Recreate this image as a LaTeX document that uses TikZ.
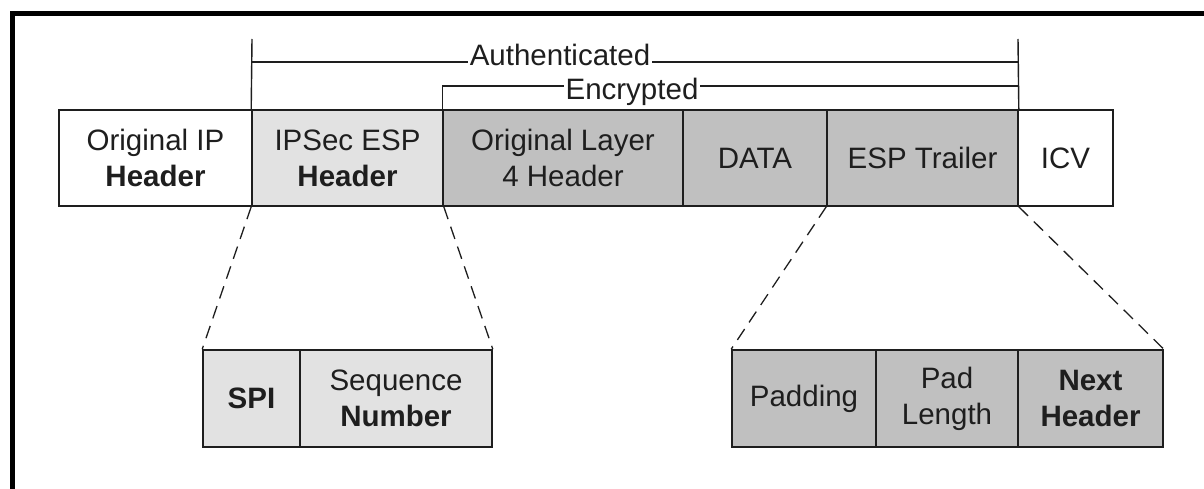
\documentclass[tikz,border=0pt]{standalone}
\usepackage{fontspec}
\setmainfont{Liberation Sans}
\definecolor{lgray}{HTML}{E2E2E2}
\definecolor{dgray}{HTML}{C0C0C0}
\definecolor{ink}{HTML}{1E1E1E}
\begin{document}
\begin{tikzpicture}[x=1pt,y=-1pt,
  cell/.style={draw=ink,line width=1.6pt,minimum height=96pt,inner sep=0pt,align=center,
    font=\fontsize{29.5}{36}\selectfont,text=ink},
  light/.style={cell,fill=lgray},
  dark/.style={cell,fill=dgray},
  plain/.style={cell,fill=white},
  zoomline/.style={draw=ink,line width=1.3pt,dash pattern=on 13pt off 8pt},
  bracket/.style={draw=ink,line width=1.4pt},
  blabel/.style={fill=white,inner sep=2pt,anchor=base,font=\fontsize{29.5}{36}\selectfont,text=ink}]
\useasboundingbox (0,0) rectangle (1204,489);
\fill[white] (0,0) rectangle (1204,489);
% frame
\draw[line width=5pt,draw=black] (12,489) -- (12,14) -- (1204,14);
% top row
\node[plain,minimum width=193pt] (oip) at (155.5,158) {Original IP\\\textbf{Header}};
\node[light,minimum width=191pt] (esp) at (347.5,158) {IPSec ESP\\\textbf{Header}};
\node[dark,minimum width=240pt] (l4) at (563,158) {Original Layer\\4 Header};
\node[dark,minimum width=144pt] (data) at (755,158) {DATA};
\node[dark,minimum width=191pt] (trl) at (922.5,158) {ESP Trailer};
\node[plain,minimum width=95pt] (icv) at (1065.5,158) {ICV};
% bottom left
\node[light,minimum width=97pt,minimum height=97pt] (spi) at (251.5,398.5) {\textbf{SPI}};
\node[light,minimum width=192pt,minimum height=97pt] (seq) at (396,398.5) {Sequence\\\textbf{Number}};
% bottom right
\node[dark,minimum width=144pt,minimum height=97pt] (pad) at (804,398.5) {Padding};
\node[dark,minimum width=142pt,minimum height=97pt] (padlen) at (947,398.5) {Pad\\Length};
\node[dark,minimum width=145pt,minimum height=97pt] (nh) at (1090.5,398.5) {\textbf{Next}\\\textbf{Header}};
% zoom lines
\draw[zoomline] (esp.south west) -- (spi.north west);
\draw[zoomline] (esp.south east) -- (seq.north east);
\draw[zoomline] (trl.south west) -- (pad.north west);
\draw[zoomline] (trl.south east) -- (nh.north east);
% authenticated bracket
\coordinate (aL) at (252,39);
\coordinate (aR) at (1018,39);
\draw[bracket] (esp.north west) -- (aL);
\draw[bracket] (trl.north east) -- (aR);
\draw[bracket] (252,62) -- (1018,62);
\node[blabel] (auth) at (560,66) {Authenticated};
% encrypted bracket
\coordinate (eR) at (1018,86);
\draw[bracket] (l4.north west) |- (eR);
\node[blabel] (enc) at (632,100) {Encrypted};
\end{tikzpicture}
\end{document}
